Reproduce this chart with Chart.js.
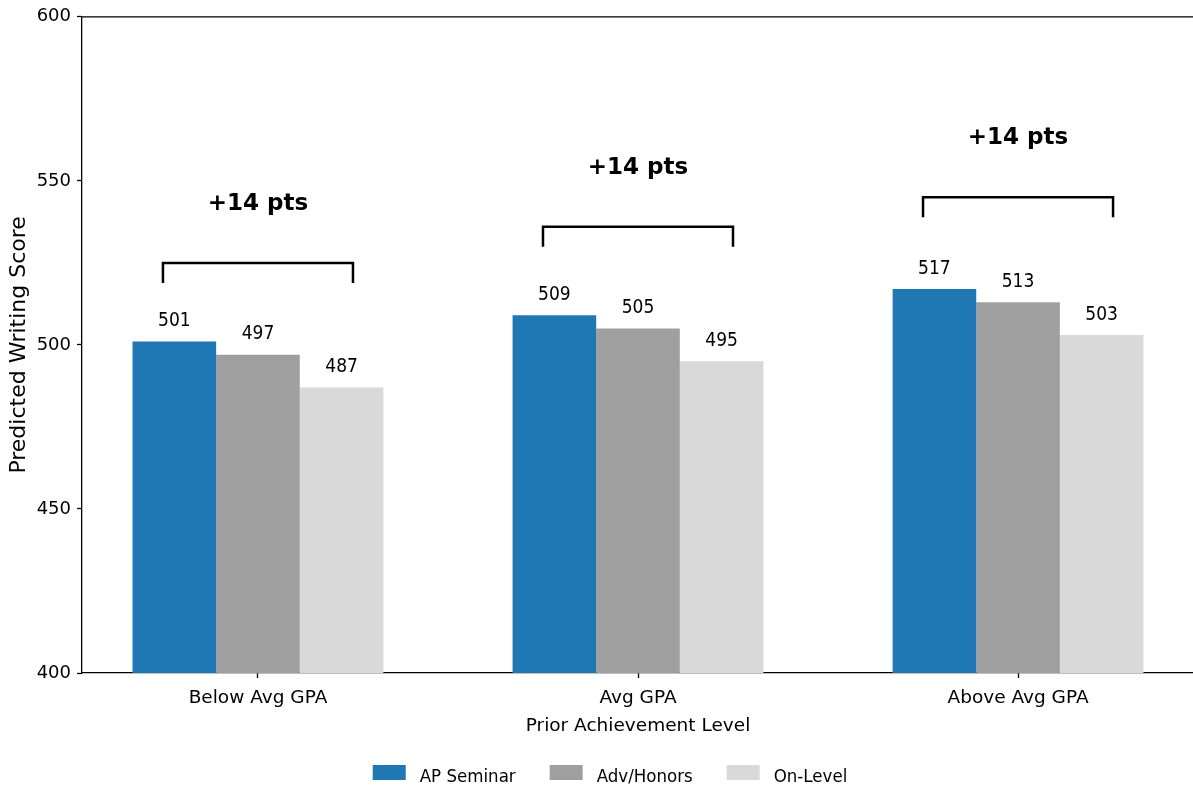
<!DOCTYPE html>
<html>
<head>
<meta charset="utf-8">
<title>Predicted Writing Score by Prior Achievement Level</title>
<script src="https://cdn.jsdelivr.net/npm/chart.js@4/dist/chart.umd.min.js"></script>
<style>
  html, body { margin: 0; padding: 0; background: #fff; overflow: hidden; }
  #wrap { width: 1193px; height: 786px; overflow: hidden; }
  canvas { display: block; }
</style>
</head>
<body>
<div id="wrap"><canvas id="chart" width="1200" height="786"></canvas></div>
<script>
// Categories and series
const categories = ['Below Avg GPA', 'Avg GPA', 'Above Avg GPA'];
const apSeminar = [501, 509, 517];
const advHonors = [497, 505, 513];
const onLevel = [487, 495, 503];

// Height (in score units) of the bracket over each group
const bracketLevel = [525, 536, 545];

// Value axis
const yMin = 400;
const yMax = 600;
const yStep = 50;

const seriesNames = ['AP Seminar', 'Adv/Honors', 'On-Level'];
const seriesColors = ['#1f77b4', '#9f9f9f', '#d9d9d9'];
const seriesValues = [apSeminar, advHonors, onLevel];

const FONT = 'DejaVu Sans';
const FONT_NARROW = 'DejaVu Sans Condensed';
const INK = '#000000';

Chart.defaults.font.family = FONT;
Chart.defaults.color = INK;

const datasets = seriesNames.map((name, s) => ({
  label: name,
  data: seriesValues[s].map((v, i) => ({ x: i, y: v })),
  backgroundColor: seriesColors[s],
  borderWidth: 0,
  categoryPercentage: 0.66,
  barPercentage: 1.0
}));

// Top and right spines of the plot frame
const framePlugin = {
  id: 'frame',
  afterDraw(chart) {
    const { ctx, chartArea: a } = chart;
    ctx.save();
    ctx.strokeStyle = INK;
    ctx.lineWidth = 1.3;
    ctx.beginPath();
    ctx.moveTo(a.left, a.top);
    ctx.lineTo(a.right, a.top);
    ctx.lineTo(a.right, a.bottom);
    ctx.stroke();
    ctx.restore();
  }
};

// Numbers printed over each bar
const valueLabelPlugin = {
  id: 'valueLabels',
  afterDatasetsDraw(chart) {
    const { ctx } = chart;
    ctx.save();
    ctx.fillStyle = INK;
    ctx.font = '19px "' + FONT_NARROW + '"';
    ctx.textAlign = 'center';
    ctx.textBaseline = 'alphabetic';
    chart.data.datasets.forEach((ds, s) => {
      const meta = chart.getDatasetMeta(s);
      meta.data.forEach((bar, i) => {
        ctx.fillText(String(ds.data[i].y), bar.x, bar.y - 15.5);
      });
    });
    ctx.restore();
  }
};

// Bracket spanning each group, with the AP Seminar vs On-Level gap
const gapBracketPlugin = {
  id: 'gapBrackets',
  afterDatasetsDraw(chart) {
    const { ctx, scales: { x, y } } = chart;
    ctx.save();
    ctx.strokeStyle = INK;
    ctx.fillStyle = INK;
    ctx.lineWidth = 2.5;
    ctx.lineJoin = 'miter';
    ctx.font = 'bold 23px "' + FONT + '"';
    ctx.textAlign = 'center';
    ctx.textBaseline = 'alphabetic';
    categories.forEach((c, i) => {
      const yy = y.getPixelForValue(bracketLevel[i]);
      const x1 = x.getPixelForValue(i - 0.25);
      const x2 = x.getPixelForValue(i + 0.25);
      ctx.beginPath();
      ctx.moveTo(x1, yy + 20);
      ctx.lineTo(x1, yy);
      ctx.lineTo(x2, yy);
      ctx.lineTo(x2, yy + 20);
      ctx.stroke();
      const gap = apSeminar[i] - onLevel[i];
      ctx.fillText('+' + gap + ' pts', x.getPixelForValue(i), yy - 53);
    });
    ctx.restore();
  }
};

// Legend row centred under the plot
const legendRowPlugin = {
  id: 'legendRow',
  afterDraw(chart) {
    const { ctx } = chart;
    const boxW = 33, boxH = 15, textGap = 14, itemGap = 34;
    const cy = 772.5, baseY = 781.5, centreX = 610;
    ctx.save();
    ctx.font = '18.5px "' + FONT_NARROW + '"';
    const items = chart.data.datasets.map(ds => ({
      text: ds.label,
      color: ds.backgroundColor,
      w: ctx.measureText(ds.label).width
    }));
    const total = items.reduce((acc, it) => acc + boxW + textGap + it.w, 0) + itemGap * (items.length - 1);
    let cx = centreX - total / 2;
    ctx.textAlign = 'left';
    ctx.textBaseline = 'alphabetic';
    items.forEach(it => {
      ctx.fillStyle = it.color;
      ctx.fillRect(cx, cy - boxH / 2, boxW, boxH);
      ctx.fillStyle = INK;
      ctx.fillText(it.text, cx + boxW + textGap, baseY);
      cx += boxW + textGap + it.w + itemGap;
    });
    ctx.restore();
  }
};

new Chart(document.getElementById('chart'), {
  type: 'bar',
  data: { datasets },
  options: {
    responsive: false,
    animation: false,
    devicePixelRatio: 1,
    layout: { padding: { top: 15, left: 0, right: 6, bottom: 44.5 } },
    plugins: {
      legend: { display: false },
      tooltip: { enabled: false }
    },
    scales: {
      x: {
        type: 'linear',
        min: -0.463,
        max: 2.463,
        offset: false,
        afterBuildTicks(scale) {
          scale.ticks = categories.map((c, i) => ({ value: i }));
        },
        afterFit(scale) { scale.height = 68.5; },
        ticks: {
          padding: 9,
          font: { size: 18.5 },
          color: INK,
          callback: (v) => categories[v] ?? ''
        },
        grid: {
          display: true,
          offset: false,
          drawOnChartArea: false,
          drawTicks: true,
          tickLength: 5,
          tickColor: INK,
          tickWidth: 1.3
        },
        border: { display: true, color: INK, width: 1.3 },
        title: {
          display: true,
          text: 'Prior Achievement Level',
          font: { size: 18.5 },
          color: INK,
          padding: { top: 0, bottom: 4 }
        }
      },
      y: {
        min: yMin,
        max: yMax,
        afterFit(scale) { scale.width = 82; },
        ticks: {
          stepSize: yStep,
          padding: 6,
          font: { size: 18 },
          color: INK
        },
        grid: {
          display: true,
          drawOnChartArea: false,
          drawTicks: true,
          tickLength: 5,
          tickColor: INK,
          tickWidth: 1.3
        },
        border: { display: true, color: INK, width: 1.3 },
        title: {
          display: true,
          text: 'Predicted Writing Score',
          font: { size: 22 },
          color: INK,
          padding: { top: 6, bottom: 0 }
        }
      }
    }
  },
  plugins: [framePlugin, valueLabelPlugin, gapBracketPlugin, legendRowPlugin]
});
</script>
</body>
</html>
